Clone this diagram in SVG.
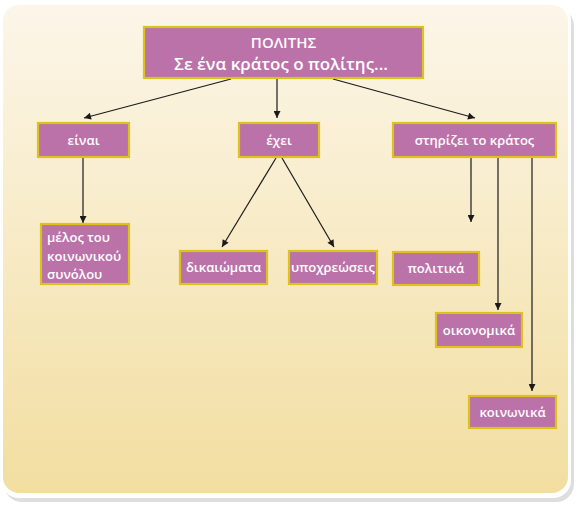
<svg xmlns="http://www.w3.org/2000/svg" width="580" height="508" viewBox="0 0 580 508">
<defs>
<linearGradient id="bg" x1="0" y1="0" x2="0" y2="1">
<stop offset="0" stop-color="#fcf6e9"/>
<stop offset="1" stop-color="#f2dea0"/>
</linearGradient>
<marker id="ah" viewBox="0 0 10 10" refX="10" refY="5" markerWidth="9" markerHeight="7" markerUnits="userSpaceOnUse" orient="auto">
<path d="M0,0 L10,5 L0,10 z" fill="#1a1a1a"/>
</marker>
</defs>
<style>
.box{fill:#bb72a9;stroke:#dcc21c;stroke-width:2.2}
.t{fill:#ffffff;font-family:"Open Sans","DejaVu Sans",sans-serif;font-size:13px;font-weight:600;text-anchor:middle}
.tl{text-anchor:start}
.big{font-size:15px}
.big2{font-size:17px}
.c{stroke:#1a1a1a;stroke-width:1.2;fill:none;marker-end:url(#ah)}
</style>
<rect x="0" y="0" width="580" height="508" fill="#ffffff"/>
<rect x="4" y="8" width="570" height="494" rx="18" fill="#d0d0d0" opacity="0.7"/>
<rect x="1" y="3" width="570" height="495" rx="18" fill="#ffffff"/>
<rect x="3" y="5" width="565" height="488" rx="16" fill="url(#bg)"/>
<g id="connectors">
<line class="c" x1="231" y1="79" x2="84" y2="118"/>
<line class="c" x1="277" y1="79" x2="277" y2="118"/>
<line class="c" x1="333" y1="79" x2="475" y2="118"/>
<line class="c" x1="83" y1="158" x2="83" y2="223"/>
<line class="c" x1="276" y1="158" x2="222" y2="247"/>
<line class="c" x1="282" y1="158" x2="334" y2="247"/>
<line class="c" x1="471" y1="158" x2="471" y2="222"/>
<line class="c" x1="498" y1="158" x2="498" y2="310"/>
<line class="c" x1="532" y1="158" x2="532" y2="391"/>
</g>
<g id="n-polites">
<rect class="box" x="144" y="27" width="279" height="51"/>
<text class="t big" x="283.5" y="48">ΠΟΛΙΤΗΣ</text>
<text class="t big2" x="281" y="70">Σε ένα κράτος ο πολίτης...</text>
</g>
<g id="n-einai">
<rect class="box" x="38" y="123" width="91" height="34"/>
<text class="t" x="83.5" y="145">είναι</text>
</g>
<g id="n-exei">
<rect class="box" x="239" y="123" width="80" height="34"/>
<text class="t" x="279" y="145">έχει</text>
</g>
<g id="n-stirizei">
<rect class="box" x="393" y="123" width="163" height="34"/>
<text class="t" x="474.5" y="145">στηρίζει το κράτος</text>
</g>
<g id="n-melos">
<rect class="box" x="41" y="224" width="88" height="60"/>
<text class="t tl" x="47" y="242">μέλος του</text>
<text class="t tl" x="47" y="261">κοινωνικού</text>
<text class="t tl" x="47" y="279">συνόλου</text>
</g>
<g id="n-dikaiomata">
<rect class="box" x="180" y="251" width="87" height="33"/>
<text class="t" x="223.5" y="272">δικαιώματα</text>
</g>
<g id="n-ypoxreoseis">
<rect class="box" x="289" y="251" width="88" height="33"/>
<text class="t" x="333" y="272">υποχρεώσεις</text>
</g>
<g id="n-politika">
<rect class="box" x="393" y="252" width="86" height="33"/>
<text class="t" x="436" y="273">πολιτικά</text>
</g>
<g id="n-oikonomika">
<rect class="box" x="436" y="313" width="86" height="34"/>
<text class="t" x="479" y="335">οικονομικά</text>
</g>
<g id="n-koinonika">
<rect class="box" x="469" y="396" width="87" height="32"/>
<text class="t" x="512.5" y="417">κοινωνικά</text>
</g>
</svg>
